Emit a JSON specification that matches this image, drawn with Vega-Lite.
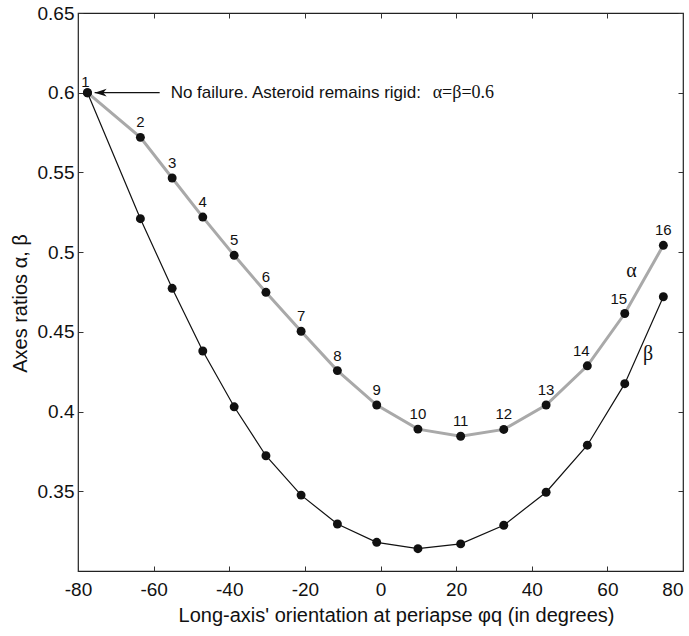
{
  "$schema": "https://vega.github.io/schema/vega-lite/v6.json",
  "width": 605,
  "height": 558,
  "autosize": {"type": "none"},
  "padding": {"left": 78, "top": 13, "right": 6, "bottom": 65},
  "background": "white",
  "config": {
    "font": "Liberation Sans",
    "view": {"stroke": "#222", "strokeWidth": 1.2},
    "axis": {
      "domain": false,
      "grid": false,
      "tickColor": "#333",
      "tickSize": -5,
      "tickWidth": 1,
      "labelFlush": false,
      "labelOverlap": false,
      "labelBound": false,
      "labelFont": "Liberation Sans",
      "labelFontSize": 19,
      "labelColor": "#111",
      "titleFont": "Liberation Sans",
      "titleFontSize": 20,
      "titleFontWeight": "normal",
      "titleColor": "#111"
    }
  },
  "datasets": {
    "pts": [
      {"n": 1, "phi": -77.5, "alpha": 0.6, "beta": 0.6},
      {"n": 2, "phi": -63.5, "alpha": 0.572, "beta": 0.521},
      {"n": 3, "phi": -55.1, "alpha": 0.5465, "beta": 0.4773},
      {"n": 4, "phi": -47.0, "alpha": 0.522, "beta": 0.438},
      {"n": 5, "phi": -38.7, "alpha": 0.498, "beta": 0.403},
      {"n": 6, "phi": -30.3, "alpha": 0.4748, "beta": 0.3723},
      {"n": 7, "phi": -21.0, "alpha": 0.4504, "beta": 0.3476},
      {"n": 8, "phi": -11.4, "alpha": 0.4257, "beta": 0.3295},
      {"n": 9, "phi": -1.0, "alpha": 0.4041, "beta": 0.318},
      {"n": 10, "phi": 9.9, "alpha": 0.389, "beta": 0.314},
      {"n": 11, "phi": 21.2, "alpha": 0.3845, "beta": 0.317},
      {"n": 12, "phi": 32.6, "alpha": 0.3888, "beta": 0.3287},
      {"n": 13, "phi": 43.8, "alpha": 0.4041, "beta": 0.3494},
      {"n": 14, "phi": 54.7, "alpha": 0.4287, "beta": 0.3789},
      {"n": 15, "phi": 64.6, "alpha": 0.4615, "beta": 0.4175},
      {"n": 16, "phi": 74.8, "alpha": 0.5043, "beta": 0.472}
    ],
    "notes": [
      {"kind": "arrow", "x": -58.4, "x2": -75.6, "y": 0.6},
      {"kind": "sans", "x": -55.5, "y": 0.6, "label": "No failure. Asteroid remains rigid:"},
      {"kind": "serif", "x": 13.8, "y": 0.6, "label": "α=β=0.6"},
      {"kind": "greek", "x": 66.4, "y": 0.4883, "label": "α"},
      {"kind": "greek", "x": 70.8, "y": 0.436, "label": "β"}
    ]
  },
  "resolve": {"axis": {"x": "independent", "y": "independent"}},
  "layer": [
    {
      "data": {"name": "pts"},
      "mark": {"type": "point", "opacity": 0},
      "encoding": {
        "x": {"field": "phi", "type": "quantitative", "scale": {"domain": [-80, 80], "nice": false, "zero": false},
          "axis": {"orient": "top", "labels": false, "title": null, "values": [-80, -60, -40, -20, 0, 20, 40, 60, 80]}},
        "y": {"field": "alpha", "type": "quantitative", "scale": {"domain": [0.3, 0.65], "nice": false, "zero": false},
          "axis": {"orient": "right", "labels": false, "title": null, "values": [0.35, 0.4, 0.45, 0.5, 0.55, 0.6, 0.65]}}
      }
    },
    {
      "data": {"name": "pts"},
      "layer": [
        {
          "mark": {"type": "line", "color": "#111", "strokeWidth": 1.2},
          "encoding": {
            "x": {"field": "phi", "type": "quantitative",
              "axis": {"orient": "bottom", "values": [-80, -60, -40, -20, 0, 20, 40, 60, 80], "labelExpr": "'' + datum.value", "labelPadding": 14,
                "labelAlign": {"condition": {"test": "datum.value == 80", "value": "right"}, "value": "center"},
                "title": "Long-axis' orientation at periapse φq (in degrees)", "titleX": 318, "titleY": 50, "titleBaseline": "alphabetic"}},
            "y": {"field": "beta", "type": "quantitative",
              "axis": {"orient": "left", "values": [0.35, 0.4, 0.45, 0.5, 0.55, 0.6, 0.65], "labelExpr": "'' + datum.value", "labelPadding": 9,
                "title": "Axes ratios α, β", "titleX": -48, "titleY": 290, "titleBaseline": "bottom"}}
          }
        },
        {
          "mark": {"type": "line", "color": "#a9a9a9", "strokeWidth": 3},
          "encoding": {
            "x": {"field": "phi", "type": "quantitative"},
            "y": {"field": "alpha", "type": "quantitative"}
          }
        },
        {
          "mark": {"type": "point", "filled": true, "color": "#111", "size": 80, "opacity": 1},
          "encoding": {
            "x": {"field": "phi", "type": "quantitative"},
            "y": {"field": "beta", "type": "quantitative"}
          }
        },
        {
          "mark": {"type": "point", "filled": true, "color": "#111", "size": 80, "opacity": 1},
          "encoding": {
            "x": {"field": "phi", "type": "quantitative"},
            "y": {"field": "alpha", "type": "quantitative"}
          }
        },
        {
          "transform": [{"filter": "datum.n > 1 && datum.n < 14 || datum.n == 16"}],
          "mark": {"type": "text", "fontSize": 15, "color": "#111", "align": "center", "baseline": "alphabetic", "dy": -10},
          "encoding": {
            "x": {"field": "phi", "type": "quantitative"},
            "y": {"field": "alpha", "type": "quantitative"},
            "text": {"field": "n"}
          }
        },
        {
          "transform": [{"filter": "datum.n == 14 || datum.n == 15"}],
          "mark": {"type": "text", "fontSize": 15, "color": "#111", "align": "center", "baseline": "alphabetic", "dy": -10, "dx": -6},
          "encoding": {
            "x": {"field": "phi", "type": "quantitative"},
            "y": {"field": "alpha", "type": "quantitative"},
            "text": {"field": "n"}
          }
        },
        {
          "transform": [{"filter": "datum.n == 1"}],
          "mark": {"type": "text", "fontSize": 15, "color": "#111", "align": "center", "baseline": "alphabetic", "dy": -6, "dx": -2},
          "encoding": {
            "x": {"field": "phi", "type": "quantitative"},
            "y": {"field": "alpha", "type": "quantitative"},
            "text": {"field": "n"}
          }
        }
      ]
    },
    {
      "data": {"name": "notes"},
      "layer": [
        {
          "transform": [{"filter": "datum.kind == 'arrow'"}],
          "mark": {"type": "rule", "color": "#111", "strokeWidth": 1.2},
          "encoding": {
            "x": {"field": "x", "type": "quantitative", "axis": null},
            "x2": {"field": "x2"},
            "y": {"field": "y", "type": "quantitative", "axis": null}
          }
        },
        {
          "transform": [{"filter": "datum.kind == 'arrow'"}],
          "mark": {"type": "point", "shape": "M0,0L1,-0.32L0.72,0L1,0.32Z", "filled": true, "color": "#111", "size": 576, "opacity": 1},
          "encoding": {
            "x": {"field": "x2", "type": "quantitative", "axis": null},
            "y": {"field": "y", "type": "quantitative", "axis": null}
          }
        },
        {
          "transform": [{"filter": "datum.kind == 'sans'"}],
          "mark": {"type": "text", "fontSize": 17, "color": "#111", "align": "left", "baseline": "middle"},
          "encoding": {
            "x": {"field": "x", "type": "quantitative", "axis": null},
            "y": {"field": "y", "type": "quantitative", "axis": null},
            "text": {"field": "label"}
          }
        },
        {
          "transform": [{"filter": "datum.kind == 'serif'"}],
          "mark": {"type": "text", "font": "Liberation Serif", "fontSize": 18, "color": "#111", "align": "left", "baseline": "middle"},
          "encoding": {
            "x": {"field": "x", "type": "quantitative", "axis": null},
            "y": {"field": "y", "type": "quantitative", "axis": null},
            "text": {"field": "label"}
          }
        },
        {
          "transform": [{"filter": "datum.kind == 'greek'"}],
          "mark": {"type": "text", "font": "Liberation Serif", "fontSize": 20, "color": "#111", "align": "center", "baseline": "middle"},
          "encoding": {
            "x": {"field": "x", "type": "quantitative", "axis": null},
            "y": {"field": "y", "type": "quantitative", "axis": null},
            "text": {"field": "label"}
          }
        }
      ]
    }
  ]
}
